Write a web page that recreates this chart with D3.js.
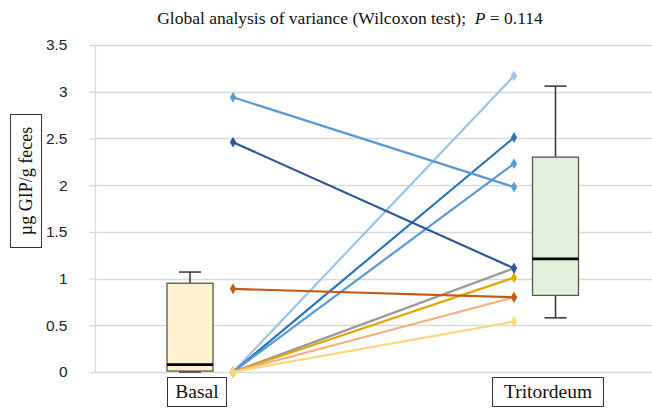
<!DOCTYPE html>
<html>
<head>
<meta charset="utf-8">
<script src="https://cdn.jsdelivr.net/npm/d3@7"></script>
<style>
  body { margin: 0; background: #fff; }
  .tick text { font-family: "Liberation Sans", Arial, sans-serif; font-size: 15.5px; fill: #222; }
  .serif { font-family: "Liberation Serif", "Times New Roman", serif; }
</style>
</head>
<body>
<div id="chart"></div>
<script>
var width = 652,
  height = 408;

// data
var groups = ["Basal", "Tritordeum"];
var basalValues = [2.94, 2.46, 0.89, 0, 0, 0, 0, 0, 0, 0];
var tritValues = [1.98, 1.11, 0.80, 3.17, 2.51, 2.23, 1.11, 1.01, 0.80, 0.54];
var lineColors = ["#5b9bd5", "#2f5597", "#c55a11", "#9dc3e6", "#2e75b6", "#5b9bd5", "#999999", "#e0a800", "#f4b183", "#ffd77a"];
// whisker low, q1, median, q3, whisker high
var basalBox = [0, 0.01, 0.08, 0.95, 1.07];
var tritBox = [0.58, 0.82, 1.21, 2.30, 3.06];
var boxFill = ["#fff2cc", "#e2efda"];
var yTicks = [0, 0.5, 1, 1.5, 2, 2.5, 3, 3.5];

var svg = d3.select("#chart").append("svg")
  .attr("width", width)
  .attr("height", height);

var y = d3.scaleLinear().domain([0, 3.5]).range([372, 45]);
var x = d3.scalePoint().domain(groups).range([190, 555.5]);

// gridlines
svg.append("g").selectAll("line").data(yTicks).enter().append("line")
  .attr("x1", 95).attr("x2", width)
  .attr("y1", function (d) { return Math.round(y(d)) + 0.5; })
  .attr("y2", function (d) { return Math.round(y(d)) + 0.5; })
  .attr("stroke", "#d9d9d9").attr("stroke-width", 1.3);

// y axis
var yAxis = svg.append("g")
  .attr("transform", "translate(95.5,0)")
  .call(d3.axisLeft(y).tickValues(yTicks).tickSize(6).tickPadding(22).tickFormat(d3.format("")));
yAxis.selectAll("line, path").attr("stroke", "#d9d9d9").attr("stroke-width", 1.3);
yAxis.select(".domain").attr("d", "M0," + y(3.5) + "V" + y(0));

// boxes
var boxes = [basalBox, tritBox];
var bw = 46, cap = 22;
boxes.forEach(function (b, i) {
  var cx = x(groups[i]);
  var g = svg.append("g");
  g.append("line").attr("x1", cx).attr("x2", cx).attr("y1", y(b[3])).attr("y2", y(b[4])).attr("stroke", "#333").attr("stroke-width", 1.5);
  g.append("line").attr("x1", cx - cap / 2).attr("x2", cx + cap / 2).attr("y1", y(b[4])).attr("y2", y(b[4])).attr("stroke", "#333").attr("stroke-width", 1.5);
  if (b[0] < b[1]) {
    g.append("line").attr("x1", cx).attr("x2", cx).attr("y1", y(b[1])).attr("y2", y(b[0])).attr("stroke", "#333").attr("stroke-width", 1.5);
    g.append("line").attr("x1", cx - cap / 2).attr("x2", cx + cap / 2).attr("y1", y(b[0])).attr("y2", y(b[0])).attr("stroke", "#333").attr("stroke-width", 1.5);
  }
  g.append("rect").attr("x", cx - bw / 2).attr("width", bw)
    .attr("y", y(b[3])).attr("height", y(b[1]) - y(b[3]))
    .attr("fill", boxFill[i]).attr("stroke", "#555").attr("stroke-width", 1.3);
  g.append("line").attr("x1", cx - bw / 2).attr("x2", cx + bw / 2).attr("y1", y(b[2])).attr("y2", y(b[2])).attr("stroke", "#000").attr("stroke-width", 2.8);
});

// paired lines
var x0 = x("Basal") + 43, x1 = x("Tritordeum") - 41.5;
var order = [3, 4, 5, 6, 7, 8, 9, 2, 1, 0];
var diamond = d3.symbol().type(d3.symbolDiamond).size(34);
order.forEach(function (i) {
  var g = svg.append("g");
  g.append("line")
    .attr("x1", x0).attr("y1", y(basalValues[i]))
    .attr("x2", x1).attr("y2", y(tritValues[i]))
    .attr("stroke", lineColors[i]).attr("stroke-width", 2.2);
  [[x0, basalValues[i]], [x1, tritValues[i]]].forEach(function (p) {
    g.append("path").attr("d", diamond)
      .attr("transform", "translate(" + p[0] + "," + y(p[1]) + ")")
      .attr("fill", lineColors[i]);
  });
});

// category labels in boxes
var catBoxes = [[167, 59], [492, 111]];
groups.forEach(function (name, i) {
  svg.append("rect").attr("x", catBoxes[i][0] + 0.5).attr("y", 377.5)
    .attr("width", catBoxes[i][1]).attr("height", 29)
    .attr("fill", "#fff").attr("stroke", "#333").attr("stroke-width", 1);
  svg.append("text").attr("class", "serif")
    .attr("x", catBoxes[i][0] + 0.5 + catBoxes[i][1] / 2).attr("y", 398)
    .attr("text-anchor", "middle").attr("font-size", 19.5).attr("fill", "#111")
    .text(name);
});

// y label
svg.append("rect").attr("x", 10.5).attr("y", 114.5).attr("width", 31).attr("height", 133)
  .attr("fill", "#fff").attr("stroke", "#333").attr("stroke-width", 1);
svg.append("text").attr("class", "serif")
  .attr("transform", "translate(32,181)rotate(-90)")
  .attr("text-anchor", "middle").attr("font-size", 18).attr("fill", "#111")
  .text("µg GIP/g feces");

// title
var title = svg.append("text").attr("class", "serif")
  .attr("x", 350).attr("y", 24).attr("text-anchor", "middle")
  .attr("font-size", 17.5).attr("fill", "#111");
title.append("tspan").text("Global analysis of variance (Wilcoxon test);\u00a0\u00a0");
title.append("tspan").attr("font-style", "italic").text("P");
title.append("tspan").text(" = 0.114");
</script>
</body>
</html>
